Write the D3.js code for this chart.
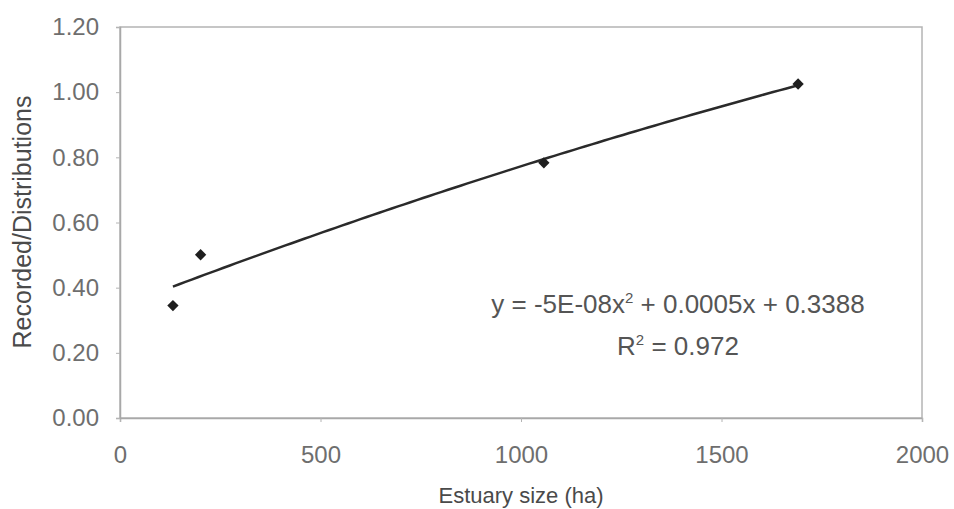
<!DOCTYPE html>
<html>
<head>
<meta charset="utf-8">
<script src="https://cdn.jsdelivr.net/npm/d3@7"></script>
<style>
  html, body { margin: 0; padding: 0; background: #fff; }
  svg { display: block; font-family: 'Liberation Sans', Arial, sans-serif; }
</style>
</head>
<body>
<div class="chart"></div>
<script>
// values
const estuarySize = [132, 201, 1057, 1691]
const recordedRatio = [0.345, 0.501, 0.783, 1.025]
const xTicks = [0, 500, 1000, 1500, 2000]
const yTicks = [0, 0.2, 0.4, 0.6, 0.8, 1.0, 1.2]
const equationText = ['y = -5E-08x', '2', ' + 0.0005x + 0.3388']
const rSquaredText = ['R', '2', ' = 0.972']

;(function init() {
  const width = 954
  const height = 509
  const margin = { top: 27, right: 32, bottom: 91, left: 120 }

  const dataset = estuarySize.map((x, i) => ({ x: x, y: recordedRatio[i] }))

  const xScale = d3
    .scaleLinear()
    .domain([0, 2000])
    .range([margin.left, width - margin.right])

  const yScale = d3
    .scaleLinear()
    .domain([0, 1.2])
    .range([height - margin.bottom, margin.top])

  const svg = d3
    .select('.chart')
    .append('svg')
    .attr('width', width)
    .attr('height', height)

  // plot area frame
  svg
    .append('rect')
    .attr('x', xScale(0))
    .attr('y', yScale(1.2))
    .attr('width', xScale(2000) - xScale(0))
    .attr('height', yScale(0) - yScale(1.2))
    .attr('fill', 'none')
    .attr('stroke', '#b4b4b4')
    .attr('stroke-width', 1.5)

  const xAxis = d3
    .axisBottom(xScale)
    .tickValues(xTicks)
    .tickSize(4)
    .tickPadding(24)
    .tickFormat(d3.format('d'))
  const yAxis = d3
    .axisLeft(yScale)
    .tickValues(yTicks)
    .tickSize(4)
    .tickPadding(17)
    .tickFormat(d3.format('.2f'))

  for (const axis of [
    { g: xAxis, t: 'translate(0,' + yScale(0) + ')' },
    { g: yAxis, t: 'translate(' + xScale(0) + ',0)' }
  ]) {
    const g = svg.append('g').attr('transform', axis.t).call(axis.g)
    g.select('.domain').attr('stroke', '#a8a8a8').attr('stroke-width', 1.5)
    g.selectAll('.tick line').attr('stroke', '#b4b4b4')
    g.selectAll('.tick text')
      .attr('fill', '#6e6e6e')
      .style('font-size', '24px')
      .style('font-family', "'Liberation Sans', Arial, sans-serif")
  }

  // 2nd order polynomial trendline (least squares, like the spreadsheet)
  const s = [0, 0, 0, 0, 0]
  const t = [0, 0, 0]
  dataset.forEach((d) => {
    for (let k = 0; k < 5; k++) s[k] += Math.pow(d.x, k)
    for (let k = 0; k < 3; k++) t[k] += Math.pow(d.x, k) * d.y
  })
  const m = [
    [s[0], s[1], s[2], t[0]],
    [s[1], s[2], s[3], t[1]],
    [s[2], s[3], s[4], t[2]]
  ]
  for (let i = 0; i < 3; i++) {
    for (let j = i + 1; j < 3; j++) {
      const f = m[j][i] / m[i][i]
      for (let k = i; k < 4; k++) m[j][k] -= f * m[i][k]
    }
  }
  const coef = [0, 0, 0]
  for (let i = 2; i >= 0; i--) {
    let v = m[i][3]
    for (let k = i + 1; k < 3; k++) v -= m[i][k] * coef[k]
    coef[i] = v / m[i][i]
  }
  const xMin = d3.min(estuarySize)
  const xMax = d3.max(estuarySize)
  const trend = d3.range(0, 101).map((i) => {
    const x = xMin + ((xMax - xMin) * i) / 100
    return { x: x, y: coef[0] + coef[1] * x + coef[2] * x * x }
  })

  const line = d3
    .line()
    .x((d) => xScale(d.x))
    .y((d) => yScale(d.y))

  svg
    .append('path')
    .datum(trend)
    .attr('d', line)
    .attr('fill', 'none')
    .attr('stroke', '#2a2a2a')
    .attr('stroke-width', 2.5)

  // markers: square turned 45 degrees, like the spreadsheet diamond
  svg
    .selectAll('.point')
    .data(dataset)
    .enter()
    .append('path')
    .attr('class', 'point')
    .attr('d', d3.symbol().type(d3.symbolSquare).size(64))
    .attr(
      'transform',
      (d) => 'translate(' + xScale(d.x) + ',' + yScale(d.y) + ') rotate(45)'
    )
    .attr('fill', '#1e1e1e')

  // equation + R squared
  const labels = [
    { parts: equationText, y: 313 },
    { parts: rSquaredText, y: 355 }
  ]
  for (const lab of labels) {
    const txt = svg
      .append('text')
      .attr('x', 678)
      .attr('y', lab.y)
      .attr('text-anchor', 'middle')
      .attr('fill', '#555')
      .style('font-size', '26px')
    txt.append('tspan').text(lab.parts[0])
    txt
      .append('tspan')
      .attr('dy', -10)
      .style('font-size', '15px')
      .text(lab.parts[1])
    txt.append('tspan').attr('dy', 10).text(lab.parts[2])
  }

  // axis titles
  svg
    .append('text')
    .attr('x', xScale(1000))
    .attr('y', 503)
    .attr('text-anchor', 'middle')
    .attr('fill', '#4a4a4a')
    .style('font-size', '22px')
    .text('Estuary size (ha)')

  svg
    .append('text')
    .attr('transform', 'translate(31,' + 222 + ') rotate(-90)')
    .attr('text-anchor', 'middle')
    .attr('fill', '#4a4a4a')
    .style('font-size', '25px')
    .text('Recorded/Distributions')
})()
</script>
</body>
</html>
